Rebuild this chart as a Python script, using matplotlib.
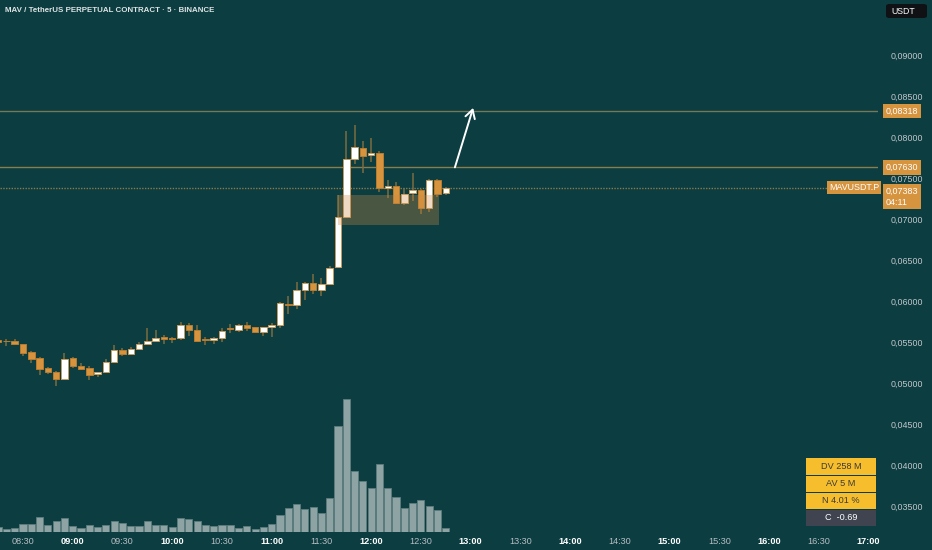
import matplotlib
matplotlib.use("Agg")
import matplotlib.pyplot as plt
from matplotlib.patches import Rectangle, FancyBboxPatch
from matplotlib import transforms

plt.rcParams['font.family'] = ['Liberation Sans', 'DejaVu Sans']

# ---------------- data (5-minute candles, 08:15 .. 12:45) ----------------
times = ["08:15", "08:20", "08:25", "08:30", "08:35", "08:40", "08:45", "08:50", "08:55",
         "09:00", "09:05", "09:10", "09:15", "09:20", "09:25", "09:30", "09:35", "09:40",
         "09:45", "09:50", "09:55", "10:00", "10:05", "10:10", "10:15", "10:20", "10:25",
         "10:30", "10:35", "10:40", "10:45", "10:50", "10:55", "11:00", "11:05", "11:10",
         "11:15", "11:20", "11:25", "11:30", "11:35", "11:40", "11:45", "11:50", "11:55",
         "12:00", "12:05", "12:10", "12:15", "12:20", "12:25", "12:30", "12:35", "12:40",
         "12:45"]
opens = [0.05524, 0.05516, 0.05516, 0.05480, 0.05378, 0.05301, 0.05179, 0.05134, 0.05053,
         0.05301, 0.05207, 0.05183, 0.05110, 0.05130, 0.05260, 0.05402, 0.05354, 0.05411,
         0.05480, 0.05516, 0.05557, 0.05545, 0.05545, 0.05707, 0.05646, 0.05533, 0.05520,
         0.05549, 0.05671, 0.05646, 0.05711, 0.05683, 0.05622, 0.05679, 0.05703, 0.05968,
         0.05947, 0.06138, 0.06224, 0.06130, 0.06203, 0.06411, 0.07028, 0.07728, 0.07866,
         0.07776, 0.07809, 0.07378, 0.07402, 0.07191, 0.07313, 0.07354, 0.07138, 0.07472,
         0.07313]
highs = [0.05532, 0.05541, 0.05537, 0.05480, 0.05386, 0.05321, 0.05191, 0.05146, 0.05362,
         0.05321, 0.05248, 0.05207, 0.05138, 0.05289, 0.05463, 0.05423, 0.05435, 0.05496,
         0.05667, 0.05646, 0.05585, 0.05565, 0.05740, 0.05728, 0.05707, 0.05565, 0.05565,
         0.05667, 0.05720, 0.05720, 0.05740, 0.05683, 0.05687, 0.05736, 0.05992, 0.06061,
         0.06228, 0.06232, 0.06329, 0.06276, 0.06427, 0.07293, 0.08073, 0.08146, 0.07955,
         0.07984, 0.07829, 0.07476, 0.07451, 0.07374, 0.07557, 0.07366, 0.07484, 0.07484,
         0.07390]
lows = [0.05500, 0.05455, 0.05472, 0.05333, 0.05248, 0.05094, 0.05106, 0.04959, 0.05053,
        0.05179, 0.05167, 0.05037, 0.05077, 0.05118, 0.05260, 0.05333, 0.05354, 0.05411,
        0.05463, 0.05504, 0.05476, 0.05484, 0.05524, 0.05573, 0.05504, 0.05463, 0.05476,
        0.05504, 0.05614, 0.05626, 0.05634, 0.05626, 0.05573, 0.05565, 0.05667, 0.05842,
        0.05907, 0.06012, 0.06085, 0.06061, 0.06195, 0.06398, 0.07008, 0.07671, 0.07565,
        0.07691, 0.07333, 0.07260, 0.07183, 0.07175, 0.07224, 0.07057, 0.07081, 0.07272,
        0.07290]
closes = [0.05504, 0.05508, 0.05472, 0.05370, 0.05297, 0.05175, 0.05130, 0.05049, 0.05297,
          0.05203, 0.05171, 0.05098, 0.05134, 0.05260, 0.05402, 0.05354, 0.05411, 0.05476,
          0.05512, 0.05549, 0.05533, 0.05537, 0.05707, 0.05646, 0.05512, 0.05524, 0.05545,
          0.05638, 0.05663, 0.05711, 0.05675, 0.05626, 0.05679, 0.05703, 0.05972, 0.05947,
          0.06138, 0.06224, 0.06130, 0.06203, 0.06398, 0.07028, 0.07728, 0.07874, 0.07772,
          0.07809, 0.07374, 0.07402, 0.07191, 0.07309, 0.07354, 0.07138, 0.07472, 0.07309,
          0.07383]
volumes = [5.0, 3.0, 3.7, 7.7, 8.0, 15.0, 7.3, 11.3, 13.7,
           6.0, 3.7, 6.7, 4.7, 6.7, 10.7, 8.7, 5.7, 6.3,
           11.3, 7.3, 7.0, 5.3, 13.7, 13.0, 10.7, 7.0, 6.0,
           7.0, 6.7, 3.7, 6.0, 3.0, 5.0, 8.4, 17.4, 23.7,
           27.7, 23.0, 25.4, 19.0, 34.0, 106.4, 132.7, 60.7, 51.0,
           44.4, 68.4, 44.4, 35.0, 24.0, 29.4, 31.7, 26.0, 22.4,
           3.7]

tick_labels = ["08:30", "09:00", "09:30", "10:00", "10:30", "11:00", "11:30", "12:00",
               "12:30", "13:00", "13:30", "14:00", "14:30", "15:00", "15:30", "16:00",
               "16:30", "17:00"]
price_ticks = [0.035, 0.040, 0.045, 0.050, 0.055, 0.060, 0.065, 0.070, 0.075, 0.080,
               0.085, 0.090]
level_top = 0.08318
level_mid = 0.07630
last_price = 0.07383
zone_start, zone_end = "11:40", "12:40"
zone_top, zone_bottom = 0.07293, 0.06927
arrow_from = ("12:50", 0.07630)
arrow_to = ("13:00", 0.08355)

stats = ["DV 258 M", "AV 5 M", "N 4.01 %", "C  -0.69"]


def tindex(t):
    h, m = t.split(":")
    return (int(h) * 60 + int(m) - (8 * 60 + 30)) / 5.0


# ---------------- figure ----------------
W, H = 932, 550
BG = '#0b3d41'
fig = plt.figure(figsize=(W / 100, H / 100), dpi=100, facecolor=BG)

ax_l, ax_r, ax_t, ax_b = 0, 878, 0, 532
rect = [ax_l / W, 1 - ax_b / H, (ax_r - ax_l) / W, (ax_b - ax_t) / H]
vax = fig.add_axes(rect, zorder=1)
ax = fig.add_axes(rect, zorder=2)
ax.set_facecolor('none')
vax.set_facecolor(BG)

xs = [tindex(t) for t in times]
x0 = -23 / 8.29
x1 = x0 + (ax_r - ax_l) / 8.29
for a in (ax, vax):
    a.set_xlim(x0, x1)
    for s in a.spines.values():
        s.set_visible(False)

# volume
vax.set_ylim(0, 532)
vax.bar(xs, volumes, width=0.86, color='#8ea3a3', edgecolor='#5d7c7d', linewidth=0.6)
vax.set_yticks([])
vax.set_xticks([])

# price
ymax = 0.09 + 55 / 8200
ymin = 0.09 - 477 / 8200
ax.set_ylim(ymin, ymax)

up_face, up_edge = '#ffffff', '#c99a5b'
dn_face, dn_edge = '#d6943f', '#b97c2f'
wick = '#7c6c40'

ax.vlines(xs, lows, highs, color=wick, linewidth=1.1, zorder=2)
bottoms = [min(o, c) for o, c in zip(opens, closes)]
heights = [max(abs(c - o), 0.00003) for o, c in zip(opens, closes)]
faces = [up_face if c >= o else dn_face for o, c in zip(opens, closes)]
edges = [up_edge if c >= o else dn_edge for o, c in zip(opens, closes)]
ax.bar(xs, heights, bottom=bottoms, width=0.78, color=faces, edgecolor=edges,
       linewidth=0.7, zorder=3)

# levels
ax.axhline(level_top, color='#75795a', linewidth=1.0, zorder=1)
ax.axhline(level_mid, color='#8a7d4e', linewidth=1.0, zorder=1)
ax.axhline(last_price, color='#8a7a4c', linewidth=1.0, linestyle=(0, (1, 1)), zorder=1)

# zone
zs, ze = tindex(zone_start), tindex(zone_end) + 0.2
ax.add_patch(Rectangle((zs, zone_bottom), ze - zs, zone_top - zone_bottom,
                       facecolor='#cf8b42', alpha=0.32, edgecolor='none', zorder=4))

# arrow
ax.annotate("", xy=(tindex(arrow_to[0]) + 0.3, arrow_to[1]),
            xytext=(tindex(arrow_from[0]) + 0.1, arrow_from[1]),
            arrowprops=dict(arrowstyle='->,head_length=0.6,head_width=0.35',
                            color='white', lw=1.4, shrinkA=0, shrinkB=0), zorder=5)

# axes ticks
ax.yaxis.tick_right()
ax.set_yticks(price_ticks)
ax.set_yticklabels([("%.5f" % p).replace('.', ',') for p in price_ticks],
                   fontsize=6.4, color='#c3c7cc')
ax.tick_params(axis='y', length=0, pad=9)
ax.set_xticks([tindex(t) for t in tick_labels])
ax.set_xticklabels(tick_labels, fontsize=6.6)
ax.tick_params(axis='x', length=0, pad=3.5)
for lbl, t in zip(ax.get_xticklabels(), tick_labels):
    if t.endswith(":00"):
        lbl.set_color('#ffffff')
        lbl.set_fontweight('bold')
    else:
        lbl.set_color('#b8bec3')

# price tags on the right
trans = transforms.blended_transform_factory(fig.transFigure, ax.transData)
TAG = '#d6943f'
for val in (level_top, level_mid):
    ax.text(886 / W, val, ("%.5f" % val).replace('.', ','), transform=trans,
            fontsize=6.4, color='#ffffff', va='center', ha='left', zorder=10,
            bbox=dict(boxstyle='square,pad=0.3', facecolor=TAG, edgecolor='none'),
            clip_on=False)
ax.text(886 / W, last_price + 0.0001, ("%.5f" % last_price).replace('.', ',') + "\n04:11",
        transform=trans, fontsize=6.4, color='#ffffff', va='top', ha='left', zorder=10,
        linespacing=1.25,
        bbox=dict(boxstyle='square,pad=0.3', facecolor=TAG, edgecolor='none'),
        clip_on=False)
ax.text(879 / W, last_price, "MAVUSDT.P", transform=trans, fontsize=6.4,
        color='#ffffff', va='center', ha='right', zorder=10,
        bbox=dict(boxstyle='square,pad=0.25', facecolor=TAG, edgecolor='none'),
        clip_on=False)

# title
fig.text(5 / W, 1 - 10 / H, "MAV / TetherUS PERPETUAL CONTRACT · 5 · BINANCE",
         fontsize=5.7, fontweight='bold', color='#dfe4e4', va='center', ha='left')

# USDT box
fig.add_artist(FancyBboxPatch((886 / W, 1 - 18 / H), 41 / W, 14 / H,
                              boxstyle='round,pad=0,rounding_size=0.004',
                              transform=fig.transFigure, facecolor='#0f1114',
                              edgecolor='none'))
fig.text(891 / W, 1 - 11 / H, "USDT", fontsize=6.3, color='#ffffff', va='center',
         ha='left')

# stats boxes
box_y = [(458, 474.5), (475.5, 491.5), (492.5, 508.5), (509.5, 525.5)]
for i, (label, (ya, yb)) in enumerate(zip(stats, box_y)):
    fc = '#f6be2c' if i < 3 else '#3f4450'
    tc = '#3a3a3a' if i < 3 else '#ffffff'
    fig.add_artist(Rectangle((806 / W, 1 - yb / H), 70 / W, (yb - ya) / H,
                             transform=fig.transFigure, facecolor=fc, edgecolor='none',
                             zorder=20))
    fig.text(841 / W, 1 - (ya + yb) / 2 / H, label, fontsize=6.6, color=tc,
             ha='center', va='center', zorder=21)

fig.savefig("out.png", dpi=100, facecolor=BG)
